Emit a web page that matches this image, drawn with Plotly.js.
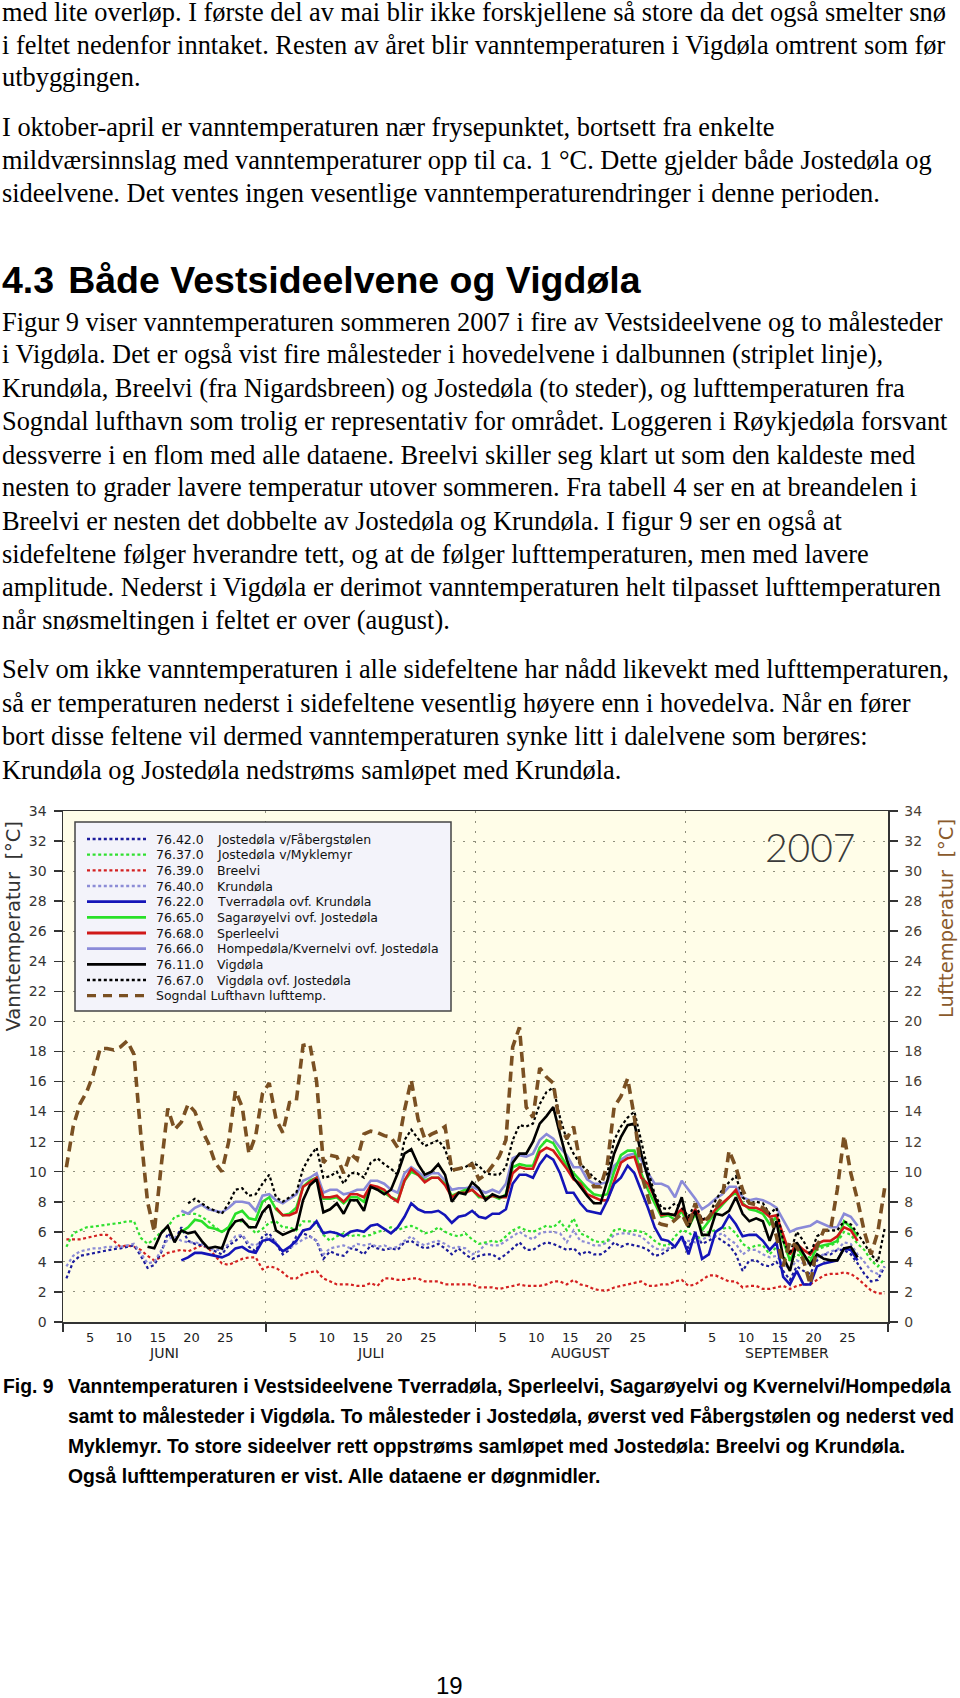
<!DOCTYPE html>
<html><head><meta charset="utf-8">
<script src="https://cdn.plot.ly/plotly-3.0.1.min.js"></script>
<style>
body{margin:0;background:#fff;width:960px;height:1698px;position:relative;overflow:hidden;}
.t{position:absolute;left:2px;white-space:nowrap;font-family:"Liberation Serif","Times New Roman",serif;font-size:26.4px;line-height:30px;color:#000;}
.h{position:absolute;left:2px;white-space:nowrap;font-family:"Liberation Sans",Arial,sans-serif;font-weight:bold;font-size:37.5px;line-height:40px;color:#000;}
.c{position:absolute;white-space:nowrap;font-family:"Liberation Sans",Arial,sans-serif;font-weight:bold;font-size:19.35px;line-height:22px;color:#000;}
.pn{position:absolute;left:436px;top:1672px;font-family:"Liberation Sans",Arial,sans-serif;font-size:24px;line-height:28px;}
#chart{position:absolute;left:0;top:790px;width:960px;height:585px;}
</style></head><body>
<div class="t" style="top:-3px">med lite overløp. I første del av mai blir ikke forskjellene så store da det også smelter snø</div>
<div class="t" style="top:29.5px">i feltet nedenfor inntaket. Resten av året blir vanntemperaturen i Vigdøla omtrent som før</div>
<div class="t" style="top:62px">utbyggingen.</div>
<div class="t" style="top:112px">I oktober-april er vanntemperaturen nær frysepunktet, bortsett fra enkelte</div>
<div class="t" style="top:145px">mildværsinnslag med vanntemperaturer opp til ca. 1 °C. Dette gjelder både Jostedøla og</div>
<div class="t" style="top:178px">sideelvene. Det ventes ingen vesentlige vanntemperaturendringer i denne perioden.</div>
<div class="h" style="top:260px">4.3<span style="margin-left:14px">Både Vestsideelvene og Vigdøla</span></div>
<div class="t" style="top:307px">Figur 9 viser vanntemperaturen sommeren 2007 i fire av Vestsideelvene og to målesteder</div>
<div class="t" style="top:339px">i Vigdøla. Det er også vist fire målesteder i hovedelvene i dalbunnen (striplet linje),</div>
<div class="t" style="top:373px">Krundøla, Breelvi (fra Nigardsbreen) og Jostedøla (to steder), og lufttemperaturen fra</div>
<div class="t" style="top:406px">Sogndal lufthavn som trolig er representativ for området. Loggeren i Røykjedøla forsvant</div>
<div class="t" style="top:440px">dessverre i en flom med alle dataene. Breelvi skiller seg klart ut som den kaldeste med</div>
<div class="t" style="top:472px">nesten to grader lavere temperatur utover sommeren. Fra tabell 4 ser en at breandelen i</div>
<div class="t" style="top:506px">Breelvi er nesten det dobbelte av Jostedøla og Krundøla. I figur 9 ser en også at</div>
<div class="t" style="top:539px">sidefeltene følger hverandre tett, og at de følger lufttemperaturen, men med lavere</div>
<div class="t" style="top:572px">amplitude. Nederst i Vigdøla er derimot vanntemperaturen helt tilpasset lufttemperaturen</div>
<div class="t" style="top:605px">når snøsmeltingen i feltet er over (august).</div>
<div class="t" style="top:654px">Selv om ikke vanntemperaturen i alle sidefeltene har nådd likevekt med lufttemperaturen,</div>
<div class="t" style="top:688px">så er temperaturen nederst i sidefeltene vesentlig høyere enn i hovedelva. Når en fører</div>
<div class="t" style="top:721px">bort disse feltene vil dermed vanntemperaturen synke litt i dalelvene som berøres:</div>
<div class="t" style="top:755px">Krundøla og Jostedøla nedstrøms samløpet med Krundøla.</div>
<div id="chart"></div>
<div class="c" style="left:3px;top:1374.5px">Fig. 9</div>
<div class="c" style="left:68px;top:1374.5px">Vanntemperaturen i Vestsideelvene Tverradøla, Sperleelvi, Sagarøyelvi og Kvernelvi/Hompedøla</div>
<div class="c" style="left:68px;top:1405px">samt to målesteder i Vigdøla. To målesteder i Jostedøla, øverst ved Fåbergstølen og nederst ved</div>
<div class="c" style="left:68px;top:1435px">Myklemyr. To store sideelver rett oppstrøms samløpet med Jostedøla: Breelvi og Krundøla.</div>
<div class="c" style="left:68px;top:1464.5px">Også lufttemperaturen er vist. Alle dataene er døgnmidler.</div>
<div class="pn">19</div>
<script>
// ---------------- DATA (daily means, 2007) ----------------
const monthStarts = ['2007-06-01','2007-07-01','2007-08-01','2007-09-01','2007-10-01'];
const monthNames  = ['JUNI','JULI','AUGUST','SEPTEMBER'];
const dayTickLabels = [5,10,15,20,25];
const yTicks = [0,2,4,6,8,10,12,14,16,18,20,22,24,26,28,30,32,34];

// Sogndal Lufthavn lufttemp. (from 1 June)
const airStart = '2007-06-01';
const airTemp = [10.3,13.0,14.5,15.3,16.5,18.2,18.2,18.1,18.3,18.7,
 17.8,12.5,8.0,6.0,10.3,14.2,12.8,13.3,14.5,14.0,
 12.8,11.9,10.6,10.0,12.0,15.4,14.3,11.2,12.4,15.2,
 15.9,13.5,12.6,14.6,14.7,18.4,18.5,16.0,10.6,11.1,
 11.0,9.9,11.2,10.8,12.5,12.7,12.6,12.4,12.3,11.6,
 14.1,16.1,13.5,12.2,12.5,12.7,13.0,10.1,10.2,10.3,
 10.5,9.5,9.8,10.4,11.0,12.1,18.3,19.6,14.3,13.6,
 16.9,16.3,15.9,13.0,12.2,13.0,10.5,10.0,9.0,9.0,
 10.5,14.3,15.0,16.2,13.6,9.9,8.3,6.7,6.5,6.4,
 6.8,7.2,6.3,7.9,6.5,7.0,7.6,8.3,11.4,10.3,
 8.8,7.9,7.8,7.6,7.2,5.7,3.7,5.4,5.0,4.1,
 2.5,5.0,6.1,6.1,8.8,12.4,9.9,8.1,6.0,4.5,6.0,8.9];

// 76.42.0 Jostedøla v/Fåbergstølen
const fabergStart = '2007-06-01';
const fabergstolen = [2.9,4.0,4.4,4.5,4.6,4.7,4.8,4.85,4.9,5.0,
 5.1,4.4,3.6,3.8,4.6,5.9,5.4,6.3,5.4,5.2,
 5.1,5.0,4.7,4.5,5.1,5.4,5.8,5.0,4.7,5.7,
 5.9,5.2,4.5,4.8,5.7,5.9,5.7,5.4,4.2,4.7,
 4.5,4.4,4.9,4.8,4.5,5.1,4.9,4.8,4.9,4.8,
 5.3,5.4,5.1,4.9,5.0,5.2,4.9,4.5,4.9,4.5,
 4.2,4.4,4.5,4.5,4.2,4.5,4.9,5.3,4.8,4.8,
 5.1,5.3,5.2,5.0,4.8,4.9,4.5,4.7,4.5,4.5,
 4.8,5.3,5.0,5.2,5.1,5.0,4.8,4.4,4.5,4.8,
 5.0,5.7,4.9,5.9,5.2,5.4,5.7,5.4,5.1,4.5,
 3.4,4.1,4.1,3.8,3.7,4.0,3.4,2.8,3.7,3.4,
 3.2,4.1,4.5,4.5,4.8,4.8,4.5,3.9,3.2,2.7,2.8,3.7];

// 76.37.0 Jostedøla v/Myklemyr
const myklemyrStart = '2007-06-01';
const myklemyr = [5.0,5.9,6.1,6.3,6.35,6.4,6.5,6.5,6.6,6.7,
 6.7,5.6,5.2,5.5,6.0,6.3,7.0,7.1,7.2,7.2,
 7.0,6.7,6.3,6.0,6.3,6.7,6.7,6.4,5.9,6.2,
 6.6,6.7,6.3,6.3,6.1,6.7,6.7,6.6,5.8,5.4,
 5.7,5.9,5.7,5.8,5.7,5.8,6.0,6.1,6.3,6.1,
 6.3,6.4,6.2,5.9,6.0,6.3,6.0,5.8,5.7,5.9,
 5.5,5.2,5.3,5.4,5.3,5.7,6.1,6.3,6.1,6.0,
 6.2,6.4,6.3,6.7,6.1,6.9,5.9,5.7,5.4,5.3,
 5.4,6.1,6.2,6.0,6.1,6.0,5.8,5.4,5.1,5.1,
 5.7,6.1,6.0,5.5,5.7,6.0,6.1,6.2,6.3,5.9,
 5.2,4.9,5.1,5.1,4.5,5.0,4.3,4.1,4.5,4.3,
 4.3,4.8,5.0,5.1,5.3,6.0,5.8,5.2,4.8,4.1,3.7,4.2];

// 76.39.0 Breelvi
const breelviStart = '2007-06-01';
const breelvi = [5.5,5.5,5.5,5.6,5.7,5.8,5.8,5.4,5.0,5.1,
 5.0,4.8,4.4,4.1,4.3,4.6,4.7,4.8,4.7,4.9,
 5.1,4.9,4.4,3.9,3.8,4.0,4.2,4.3,4.3,3.5,
 3.7,3.6,3.3,2.9,2.9,3.2,3.3,3.4,2.9,2.7,
 2.5,2.5,2.5,2.4,2.4,2.6,2.4,2.9,2.9,2.8,
 2.8,2.9,2.9,2.7,2.7,2.7,2.5,2.5,2.5,2.5,
 2.5,2.3,2.3,2.3,2.2,2.3,2.4,2.5,2.4,2.4,
 2.4,2.5,2.7,2.7,2.5,2.8,2.5,2.4,2.2,2.1,
 2.1,2.3,2.4,2.5,2.6,2.7,2.4,2.4,2.5,2.5,
 2.7,2.8,2.4,2.5,2.8,3.1,3.1,2.9,2.7,2.7,
 2.3,2.4,2.4,2.2,2.2,2.3,2.4,2.2,2.4,2.5,
 2.5,2.8,3.1,3.2,3.2,3.3,3.2,2.9,2.5,2.1,1.9,1.9];

// 76.40.0 Krundøla
const krundolaStart = '2007-06-01';
const krundola = [3.7,4.4,4.7,4.8,4.9,4.9,5.0,5.0,5.0,5.1,
 5.2,4.6,3.9,4.0,4.8,5.5,5.7,5.4,5.3,5.3,
 5.2,4.9,4.8,4.8,5.2,5.7,5.8,5.2,5.1,5.4,
 5.7,5.3,4.7,4.9,5.2,5.5,5.7,5.4,4.5,4.9,
 5.0,5.1,4.9,5.2,5.1,5.2,5.0,5.1,4.9,5.0,
 5.4,5.7,5.3,5.1,5.3,5.4,5.2,4.9,5.0,4.9,
 4.5,4.7,5.2,5.1,5.1,5.4,5.7,6.0,5.7,5.5,
 5.9,6.0,6.0,5.9,5.3,6.1,5.4,5.3,5.1,5.1,
 5.3,5.8,5.9,5.9,5.8,5.7,5.3,4.9,4.8,4.9,
 5.2,5.4,5.4,5.3,5.5,5.7,5.7,5.9,5.5,5.2,
 4.5,4.8,4.8,4.5,4.3,4.4,3.9,3.5,4.1,3.9,
 3.9,4.3,4.5,4.7,4.8,5.3,5.2,4.5,4.0,3.4,3.2,3.7];

// 76.22.0 Tverradøla ovf. Krundøla
const tverradolaStart = '2007-06-18';
const tverradola = [4.1,4.3,4.6,4.6,4.5,4.4,4.3,4.5,4.9,5.0,
 4.7,4.6,5.4,5.5,5.2,4.7,5.0,5.4,6.1,6.2,
 6.7,5.9,6.0,5.9,5.7,6.0,6.1,6.0,6.4,6.5,
 6.2,5.9,6.3,7.0,7.9,7.5,7.3,7.3,7.4,7.1,
 6.6,7.0,7.1,7.4,7.0,6.9,7.2,7.2,7.5,9.2,
 9.8,9.8,9.6,10.5,11.1,10.8,9.9,8.6,8.6,7.9,
 7.4,7.3,7.2,8.1,9.2,9.6,10.4,9.9,8.8,7.6,
 6.3,5.5,5.4,5.0,5.7,4.5,6.0,4.2,4.5,6.0,
 6.3,7.1,6.5,5.7,5.8,5.8,5.4,4.8,5.3,3.0,
 2.5,3.4,2.5,2.5,3.7,3.9,4.0,4.1,4.9,4.8,4.1];

// 76.65.0 Sagarøyelvi ovf. Jostedøla
const sagaroyStart = '2007-06-18';
const sagaroyelvi = [6.0,6.3,6.8,6.7,6.3,6.2,6.0,6.3,7.2,7.4,
 6.9,6.8,8.0,8.3,7.5,7.1,7.2,7.6,9.0,9.4,
 9.6,8.2,8.2,8.3,7.9,8.3,8.3,8.0,9.0,8.9,
 8.6,8.3,8.1,9.4,10.0,9.8,9.4,9.6,9.6,9.2,
 8.4,8.6,8.8,8.8,8.3,8.3,8.4,8.2,8.5,10.3,
 10.5,10.4,10.4,11.6,12.1,11.9,11.1,10.4,9.9,9.4,
 8.9,8.5,8.4,8.5,10.0,11.1,11.4,11.4,9.9,8.8,
 7.9,7.0,7.1,6.8,7.4,6.3,7.2,6.1,6.7,7.3,
 7.8,8.3,8.6,7.9,7.5,7.4,7.2,6.5,7.0,5.4,
 4.1,5.0,4.3,4.0,5.0,5.1,5.2,5.4,6.7,6.3,5.7];

// 76.68.0 Sperleelvi
const sperleStart = '2007-07-02';
const sperleelvi = [7.6,7.1,7.1,7.3,9.0,9.3,9.6,8.3,8.3,8.4,
 8.0,8.5,8.5,8.3,9.1,9.0,8.8,8.3,8.0,9.4,
 10.2,9.8,9.3,9.6,9.6,9.1,8.3,8.6,8.6,8.8,
 8.4,8.2,8.4,8.3,8.3,9.9,10.3,10.2,10.2,11.3,
 11.6,11.4,10.8,10.2,9.5,9.2,8.5,8.3,8.1,8.1,
 9.4,10.6,10.9,11.0,9.6,9.2,8.3,7.1,7.2,7.1,
 7.5,6.8,7.5,6.8,6.9,7.5,7.9,8.3,8.8,7.8,
 7.6,7.6,7.4,7.0,7.1,5.8,4.5,5.2,4.8,4.5,
 5.2,5.4,5.4,5.7,6.3,6.1,5.4];

// 76.66.0 Hompedøla/Kvernelvi ovf. Jostedøla
const kvernelviStart = '2007-06-18';
const kvernelvi = [7.4,7.2,7.6,7.8,7.5,7.4,7.3,7.6,8.0,8.0,
 7.9,7.4,8.4,8.5,8.1,7.9,8.2,8.5,9.4,9.6,
 9.9,8.6,8.8,8.8,8.5,8.6,8.8,8.8,9.4,9.4,
 9.2,8.8,8.6,9.9,10.3,10.0,9.6,9.9,9.9,9.4,
 8.8,8.9,8.9,9.0,8.8,8.6,8.8,8.6,9.2,10.9,
 11.1,11.0,11.2,12.1,12.5,12.2,11.6,11.1,10.3,10.3,
 9.5,9.2,9.2,9.3,10.4,10.8,11.1,11.2,10.8,9.9,
 9.2,9.2,9.0,8.3,9.4,8.8,8.2,7.5,7.8,8.2,
 8.5,9.0,9.0,8.3,8.1,8.2,8.1,7.9,7.6,6.8,
 6.0,6.2,6.3,6.4,6.7,6.5,6.3,6.3,7.2,7.0,6.4];

// 76.11.0 Vigdøla
const vigdolaStart = '2007-06-13';
const vigdola = [5.0,4.9,5.9,6.4,5.3,6.1,5.9,6.0,5.4,4.9,
 5.0,4.9,6.1,6.7,6.8,6.3,6.3,7.3,7.8,6.1,
 5.8,6.0,6.2,8.1,9.1,9.5,7.3,7.5,7.9,7.2,
 8.1,8.1,7.4,9.0,8.8,8.5,8.8,9.9,11.2,11.5,
 10.5,9.8,10.0,10.5,9.8,8.0,8.6,8.5,9.3,8.9,
 8.1,8.5,8.3,8.4,10.6,11.2,11.2,12.0,13.2,13.7,
 14.3,12.5,10.8,9.6,9.0,8.4,7.9,7.9,9.4,11.2,
 12.3,13.1,13.2,11.2,9.6,8.3,7.2,7.2,7.1,8.3,
 6.3,7.4,5.8,5.8,7.2,7.1,7.4,8.3,7.2,6.7,
 6.9,6.7,5.4,6.7,4.3,3.4,5.3,4.5,3.8,4.5,
 4.2,4.1,4.1,4.9,5.0,4.3];

// 76.67.0 Vigdøla ovf. Jostedøla
const vigdolaOvfStart = '2007-06-19';
const vigdolaOvf = [7.9,8.2,7.9,7.6,7.4,7.2,7.9,8.8,8.9,8.4,
 8.5,9.2,9.8,8.3,8.0,8.3,8.6,10.2,11.0,11.6,
 9.6,9.7,10.0,9.2,9.9,9.9,9.6,10.6,10.9,10.5,
 10.2,9.8,12.1,12.8,12.2,11.7,11.9,12.1,11.5,10.1,
 10.2,10.3,10.6,10.4,9.9,9.8,9.8,10.3,12.1,13.1,
 13.0,13.2,14.5,15.3,15.6,13.6,12.1,11.2,10.5,10.1,
 9.6,9.3,9.9,12.1,13.0,13.6,14.0,12.0,10.1,8.5,
 7.6,7.5,7.9,7.6,7.0,7.9,6.8,7.0,8.1,8.8,
 9.3,9.7,8.3,7.9,8.0,7.9,7.2,7.6,5.4,4.5,
 6.0,5.4,4.5,5.7,6.0,6.1,6.1,6.7,6.5,5.9,
 5.2,4.5,4.0,6.2];

const legendCodes = ['76.42.0','76.37.0','76.39.0','76.40.0','76.22.0','76.65.0','76.68.0','76.66.0','76.11.0','76.67.0',''];
const legendNames = ['Jostedøla v/Fåbergstølen','Jostedøla v/Myklemyr','Breelvi','Krundøla','Tverradøla ovf. Krundøla',
  'Sagarøyelvi ovf. Jostedøla','Sperleelvi','Hompedøla/Kvernelvi ovf. Jostedøla','Vigdøla','Vigdøla ovf. Jostedøla',
  'Sogndal Lufthavn lufttemp.'];

// ---------------- STYLES ----------------
const DOT = '3px,2.6px';
const seriesStyle = [
  {vals: fabergstolen, start: fabergStart, color:'#1c1c9c', width:2.2, dash:DOT},
  {vals: myklemyr,     start: myklemyrStart, color:'#30e030', width:2.2, dash:DOT},
  {vals: breelvi,      start: breelviStart, color:'#d42020', width:2.2, dash:DOT},
  {vals: krundola,     start: krundolaStart, color:'#8c8cd6', width:2.2, dash:DOT},
  {vals: tverradola,   start: tverradolaStart, color:'#1414b8', width:2.6, dash:'solid'},
  {vals: sagaroyelvi,  start: sagaroyStart, color:'#28e028', width:2.6, dash:'solid'},
  {vals: sperleelvi,   start: sperleStart, color:'#d01818', width:2.6, dash:'solid'},
  {vals: kvernelvi,    start: kvernelviStart, color:'#8a8ad8', width:2.6, dash:'solid'},
  {vals: vigdola,      start: vigdolaStart, color:'#000000', width:2.6, dash:'solid'},
  {vals: vigdolaOvf,   start: vigdolaOvfStart, color:'#000000', width:2.2, dash:DOT},
  {vals: airTemp,      start: airStart, color:'#7a5022', width:3.6, dash:'10px,6px', air:true}
];

function addDays(startStr, k, hour) {
  const p = startStr.split('-').map(Number);
  const d = new Date(Date.UTC(p[0], p[1]-1, p[2] + k, hour));
  const iso = d.toISOString();
  return iso.slice(0,10) + ' ' + iso.slice(11,16);
}

// draw order: air first, then dotted, then solids
const drawOrder = [10,2,0,3,1,7,5,6,4,9,8];
const traces = drawOrder.map(idx => {
  const s = seriesStyle[idx];
  return {
    type:'scatter', mode:'lines',
    x: s.vals.map((v,k) => addDays(s.start, k, 12)),
    y: s.vals,
    yaxis: s.air ? 'y2' : 'y',
    line:{color:s.color, width:s.width, dash:s.dash},
    hoverinfo:'skip', showlegend:false
  };
});

// day tick positions
const dayTickVals = [], dayTickText = [];
monthStarts.slice(0,4).forEach(ms => {
  dayTickLabels.forEach(d => { dayTickVals.push(addDays(ms, d-1, 0)); dayTickText.push(String(d)); });
});

// geometry of plot area in page pixels (for paper coordinate conversion)
const PX0 = 63, PX1 = 888, PY0 = 811, PY1 = 1322;
const px = x => (x - PX0) / (PX1 - PX0);
const py = y => (PY1 - y) / (PY1 - PY0);

const shapes = [];
const annotations = [];
const LF = {family:'DejaVu Sans', size:12.5, color:'#111'};

// legend box
shapes.push({type:'rect', xref:'paper', yref:'paper', x0:px(75), x1:px(451), y0:py(1011), y1:py(822),
  fillcolor:'#f3f3fa', line:{color:'#444', width:1.5}, layer:'above'});
for (let k = 0; k < legendNames.length; k++) {
  const s = seriesStyle[k];
  const yy = py(839 + 15.67*k);
  shapes.push({type:'line', xref:'paper', yref:'paper', x0:px(87), x1:px(146), y0:yy, y1:yy,
    line:{color:s.color, width: s.air ? 3.2 : (s.dash==='solid' ? 2.8 : 2.4), dash: s.air ? '9px,7px' : s.dash}, layer:'above'});
  if (legendCodes[k]) {
    annotations.push({xref:'paper', yref:'paper', x:px(154), y:yy, xanchor:'left', yanchor:'middle', showarrow:false,
      text:legendCodes[k], font:LF});
    annotations.push({xref:'paper', yref:'paper', x:px(215), y:yy, xanchor:'left', yanchor:'middle', showarrow:false,
      text:legendNames[k], font:LF});
  } else {
    annotations.push({xref:'paper', yref:'paper', x:px(154), y:yy, xanchor:'left', yanchor:'middle', showarrow:false,
      text:legendNames[k], font:LF});
  }
}

// month names centred under each month
for (let m = 0; m < monthNames.length; m++) {
  const a = new Date(monthStarts[m] + 'T00:00:00Z').getTime();
  const b = new Date(monthStarts[m+1] + 'T00:00:00Z').getTime();
  const mid = new Date((a + b) / 2).toISOString();
  annotations.push({xref:'x', yref:'paper', x: mid.slice(0,10)+' '+mid.slice(11,16), y:py(1353),
    xanchor:'center', yanchor:'middle', showarrow:false, text:monthNames[m],
    font:{family:'DejaVu Sans', size:14, color:'#222'}});
}

// year label
annotations.push({xref:'paper', yref:'paper', x:px(810), y:py(847), xanchor:'center', yanchor:'middle', showarrow:false,
  text:'2007', font:{family:'Lato, DejaVu Sans', size:39, color:'#3a3a3a', weight:300}});

// axis titles
annotations.push({xref:'paper', yref:'paper', x:px(12.5), y:py(927), xanchor:'center', yanchor:'middle', showarrow:false,
  textangle:-90, text:'Vanntemperatur  [°C]', font:{family:'DejaVu Sans', size:19.5, color:'#333'}});
annotations.push({xref:'paper', yref:'paper', x:px(946), y:py(919), xanchor:'center', yanchor:'middle', showarrow:false,
  textangle:-90, text:'Lufttemperatur  [°C]', font:{family:'DejaVu Sans', size:19.5, color:'#8a5a2c'}});

const gridDash = '1.5px,8.5px';
const layout = {
  width:960, height:585,
  margin:{l:PX0, r:960-PX1, t:PY0-790, b:585-(PY1-790)},
  paper_bgcolor:'rgba(0,0,0,0)', plot_bgcolor:'#fffde8',
  showlegend:false,
  xaxis:{type:'date', range:[monthStarts[0], monthStarts[4]], tickvals:monthStarts, showticklabels:false,
    ticks:'outside', ticklen:8, tickwidth:1.5, tickcolor:'#333',
    showgrid:true, gridcolor:'#8f8f7c', gridwidth:1, griddash:gridDash,
    showline:true, mirror:true, linecolor:'#333', linewidth:1.5, zeroline:false, fixedrange:true},
  xaxis2:{type:'date', overlaying:'x', anchor:'y', side:'bottom', range:[monthStarts[0], monthStarts[4]],
    tickvals:dayTickVals, ticktext:dayTickText, ticks:'', showgrid:false, showline:false, zeroline:false,
    tickfont:{family:'DejaVu Sans', size:13, color:'#222'}, ticklabelstandoff:6},
  yaxis:{range:[0,34], tickvals:yTicks, ticks:'outside', ticklen:8, tickwidth:1.5, tickcolor:'#333',
    tickfont:{family:'DejaVu Sans', size:14, color:'#333'}, ticklabelstandoff:4,
    showgrid:true, gridcolor:'#8f8f7c', gridwidth:1, griddash:gridDash,
    showline:true, mirror:true, linecolor:'#333', linewidth:1.5, zeroline:false},
  yaxis2:{range:[0,34], overlaying:'y', side:'right', anchor:'x', tickvals:yTicks, ticks:'outside', ticklen:8,
    tickwidth:1.5, tickcolor:'#333', tickfont:{family:'DejaVu Sans', size:14, color:'#4a3f35'}, ticklabelstandoff:4,
    showgrid:false, showline:true, linecolor:'#333', linewidth:1.5, zeroline:false},
  shapes:shapes,
  annotations:annotations
};

// empty trace so that the day-label axis (xaxis2) is drawn
traces.push({type:'scatter', mode:'lines', x:[monthStarts[0], monthStarts[4]], y:[null,null], xaxis:'x2', yaxis:'y',
  hoverinfo:'skip', showlegend:false});

Plotly.newPlot('chart', traces, layout, {staticPlot:true, displayModeBar:false});
</script>
</body></html>
